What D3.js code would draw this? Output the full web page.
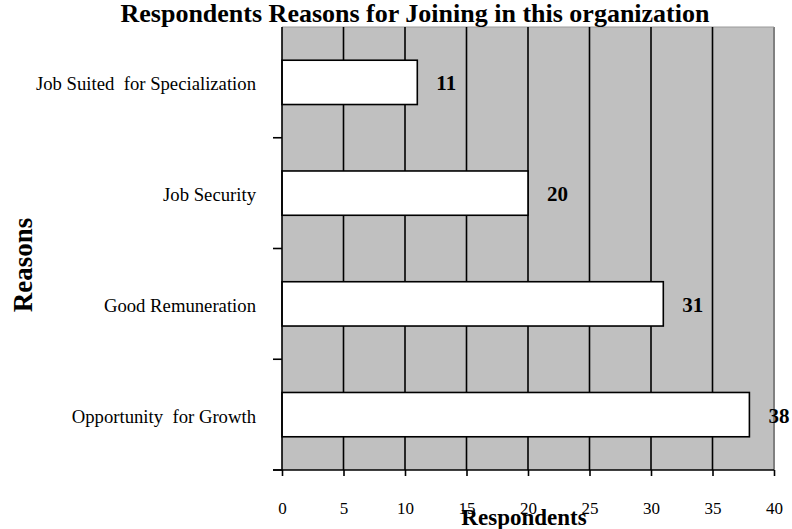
<!DOCTYPE html>
<html>
<head>
<meta charset="utf-8">
<script src="https://cdn.jsdelivr.net/npm/d3@7"></script>
<style>
  html, body { margin: 0; padding: 0; background: #fff; }
  svg { display: block; font-family: "Liberation Serif", "Times New Roman", serif; }
</style>
</head>
<body>
<svg id="chart" width="792" height="529"></svg>
<script>
// Reasons, listed top to bottom
const reasons = [
  "Job Suited  for Specialization",
  "Job Security",
  "Good Remuneration",
  "Opportunity  for Growth"
];
// Number of respondents per reason
const respondents = [11, 20, 31, 38];
// Tick values on the respondents axis
const xTicks = [0, 5, 10, 15, 20, 25, 30, 35, 40];

const svg = d3.select("#chart");
const plot = { left: 282, right: 774, top: 27, bottom: 470 };

const x = d3.scaleLinear().domain([0, 40]).range([plot.left, plot.right]);
const y = d3.scaleBand().domain(reasons).range([plot.top, plot.bottom])
  .paddingInner(0.6).paddingOuter(0.3);

// plot background
svg.append("rect")
  .attr("x", plot.left).attr("y", plot.top)
  .attr("width", plot.right - plot.left).attr("height", plot.bottom - plot.top)
  .attr("fill", "#c0c0c0");
// shaded right and top edges
svg.append("line")
  .attr("x1", plot.right).attr("x2", plot.right)
  .attr("y1", plot.top).attr("y2", plot.bottom)
  .attr("stroke", "#808080").attr("stroke-width", 2);
svg.append("line")
  .attr("x1", plot.left).attr("x2", plot.right)
  .attr("y1", plot.top).attr("y2", plot.top)
  .attr("stroke", "#9a9a9a").attr("stroke-width", 1);

// vertical gridlines
svg.append("g").selectAll("line")
  .data(xTicks.filter(d => d > 0 && d < 40))
  .join("line")
  .attr("x1", d => x(d)).attr("x2", d => x(d))
  .attr("y1", plot.top).attr("y2", plot.bottom)
  .attr("stroke", "#000").attr("stroke-width", 1.6);

// bars
svg.append("g").selectAll("rect")
  .data(reasons)
  .join("rect")
  .attr("x", x(0))
  .attr("y", d => y(d))
  .attr("width", (d, i) => x(respondents[i]) - x(0))
  .attr("height", y.bandwidth())
  .attr("fill", "#fff")
  .attr("stroke", "#000").attr("stroke-width", 1.6);

// value labels
svg.append("g").selectAll("text")
  .data(reasons)
  .join("text")
  .attr("x", (d, i) => x(respondents[i]) + 19)
  .attr("y", d => y(d) + y.bandwidth() / 2 + 8)
  .attr("font-size", 21).attr("font-weight", "bold")
  .text((d, i) => respondents[i]);

// bottom axis
const xAxis = d3.axisBottom(x).tickValues(xTicks).tickSize(6).tickSizeOuter(0).tickPadding(26);
const gx = svg.append("g").attr("transform", `translate(0,${plot.bottom})`).call(xAxis);
gx.select(".domain").remove();
gx.selectAll(".tick line").attr("stroke", "#000").attr("stroke-width", 1.6);
gx.selectAll(".tick text").attr("font-family", "Liberation Serif, serif")
  .attr("font-size", 17).attr("fill", "#000");
gx.append("line")
  .attr("x1", plot.left - 9).attr("x2", plot.right)
  .attr("y1", 0).attr("y2", 0)
  .attr("stroke", "#000").attr("stroke-width", 1.6);

// left axis: category boundaries marked with ticks
const step = y.step();
const boundaries = reasons.map((d, i) => plot.top + step * (i + 1));
const gy = svg.append("g");
gy.append("line")
  .attr("x1", plot.left).attr("x2", plot.left)
  .attr("y1", plot.top).attr("y2", plot.bottom)
  .attr("stroke", "#000").attr("stroke-width", 1.6);
gy.selectAll("line.tk")
  .data(boundaries)
  .join("line").attr("class", "tk")
  .attr("x1", plot.left - 9).attr("x2", plot.left)
  .attr("y1", d => d).attr("y2", d => d)
  .attr("stroke", "#000").attr("stroke-width", 1.6);

// category labels
gy.selectAll("text")
  .data(reasons)
  .join("text")
  .attr("x", 256)
  .attr("y", d => y(d) + y.bandwidth() / 2 + 8)
  .attr("text-anchor", "end")
  .attr("font-size", 18.7)
  .style("white-space", "pre")
  .text(d => d);

// title
svg.append("text")
  .attr("x", 415).attr("y", 22)
  .attr("text-anchor", "middle")
  .attr("font-size", 26).attr("font-weight", "bold")
  .text("Respondents Reasons for Joining in this organization");

// axis titles
svg.append("text")
  .attr("x", 524).attr("y", 525)
  .attr("text-anchor", "middle")
  .attr("font-size", 23).attr("font-weight", "bold")
  .text("Respondents");
svg.append("text")
  .attr("transform", "translate(32,265) rotate(-90)")
  .attr("text-anchor", "middle")
  .attr("font-size", 27).attr("font-weight", "bold")
  .text("Reasons");
</script>
</body>
</html>
